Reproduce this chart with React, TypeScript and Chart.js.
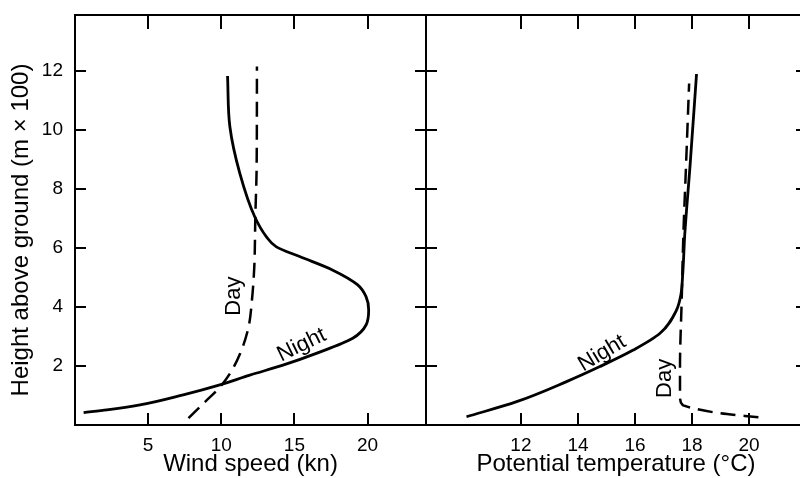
import React, { useEffect, useRef } from "react";
import { Chart, registerables } from "chart.js";

Chart.register(...registerables);

// Shared height axis (m × 100)
const heightTicks = [2, 4, 6, 8, 10, 12];
const heightMin = 0;
const heightMax = 13.9;

// Left panel: wind speed (kn)
const windTicks = [5, 10, 15, 20];
const windMin = 0;
const windMax = 24;
const windNightHeight = [0.42, 0.51, 0.68, 1.02, 1.36, 1.69, 2.03, 2.43, 2.94, 3.39, 3.9, 4.35, 4.75, 5.25, 5.71, 6.04, 6.38, 7.06, 8.53, 10.11, 11.83];
const windNightSpeed = [0.59, 2.18, 4.45, 7.4, 9.9, 11.95, 14.22, 16.5, 18.99, 19.9, 20.08, 19.9, 19.33, 17.63, 15.36, 13.77, 13.09, 12.29, 11.27, 10.59, 10.43];
const windDayHeight = [0.23, 0.74, 1.3, 1.75, 2.43, 3.33, 4.24, 5.37, 7.06, 8.76, 12.15];
const windDaySpeed = [7.76, 8.8, 9.93, 10.6, 11.3, 11.87, 12.1, 12.26, 12.33, 12.42, 12.44];

// Right panel: potential temperature (°C)
const tempTicks = [12, 14, 16, 18, 20];
const tempMin = 8.67;
const tempMax = 22;
const tempNightHeight = [0.28, 0.79, 1.47, 1.98, 2.54, 3.11, 3.9, 4.41, 5.03, 6.5, 8.76, 11.9];
const tempNightValue = [10.09, 11.85, 13.6, 14.77, 15.94, 16.88, 17.46, 17.61, 17.67, 17.75, 17.93, 18.16];
const tempDayHeight = [0.26, 0.4, 0.57, 0.68, 0.96, 1.98, 4.24, 6.5, 8.76, 11.58];
const tempDayValue = [20.33, 18.98, 18.05, 17.67, 17.58, 17.58, 17.64, 17.7, 17.79, 17.9];

// Curve labels (data coordinates)
const windLabelText = ["Night", "Day"];
const windLabelX = [15.5, 10.9];
const windLabelY = [2.71, 4.37];
const windLabelAngle = [-26, -90];
const tempLabelText = ["Night", "Day"];
const tempLabelX = [14.85, 17.05];
const tempLabelY = [2.43, 1.58];
const tempLabelAngle = [-31, -90];

const FONT = "'Liberation Sans', Arial, Helvetica, sans-serif";
const INK = "#000000";
const CANVAS_W = 830;
const CANVAS_H = 478;

const curveLabelPlugin = {
  id: "curveLabels",
  afterDatasetsDraw(chart: any, _args: any, opts: any) {
    const { ctx } = chart;
    const xs = chart.scales.x;
    const ys = chart.scales.y;
    const texts: string[] = opts.text || [];
    ctx.save();
    ctx.fillStyle = INK;
    ctx.font = `22px ${FONT}`;
    ctx.textAlign = "center";
    ctx.textBaseline = "middle";
    texts.forEach((t, i) => {
      ctx.save();
      ctx.translate(xs.getPixelForValue(opts.x[i]), ys.getPixelForValue(opts.y[i]));
      ctx.rotate((opts.angle[i] * Math.PI) / 180);
      ctx.fillText(t, 0, 0);
      ctx.restore();
    });
    ctx.restore();
  },
};

const setTicks = (values: number[]) => (scale: any) => {
  scale.ticks = values.map((v) => ({ value: v }));
};

function gridOpts(tickLength: number) {
  return {
    drawOnChartArea: false,
    drawTicks: true,
    tickLength,
    color: INK,
    tickColor: INK,
    lineWidth: 2,
    tickWidth: 2,
  };
}
const border = { display: true, color: INK, width: 2 };

function toPoints(xs: number[], ys: number[]) {
  return ys.map((y, i) => ({ x: xs[i], y }));
}

function fitHeight(h: number) {
  return (s: any) => {
    s.height = h;
    s.paddingLeft = 0;
    s.paddingRight = 0;
    s.paddingTop = 0;
    s.paddingBottom = 0;
  };
}
function fitWidth(w: number) {
  return (s: any) => {
    s.width = w;
    s.paddingLeft = 0;
    s.paddingRight = 0;
    s.paddingTop = 0;
    s.paddingBottom = 0;
  };
}

function makeConfig(p: {
  isLeft: boolean;
  xMin: number;
  xMax: number;
  xTicks: number[];
  xTitle: string;
  nightX: number[];
  nightY: number[];
  dayX: number[];
  dayY: number[];
  labels: any;
}) {
  const { isLeft } = p;
  return {
    type: "line" as const,
    data: {
      datasets: [
        {
          label: "Night",
          data: toPoints(p.nightX, p.nightY),
          borderColor: INK,
          borderWidth: 2.8,
          pointRadius: 0,
          fill: false,
          cubicInterpolationMode: "monotone" as const,
          xAxisID: "x",
          yAxisID: "y",
        },
        {
          label: "Day",
          data: toPoints(p.dayX, p.dayY),
          borderColor: INK,
          borderWidth: 2.5,
          borderDash: [15, 8],
          pointRadius: 0,
          fill: false,
          cubicInterpolationMode: "monotone" as const,
          xAxisID: "x",
          yAxisID: "y",
        },
      ],
    },
    options: {
      indexAxis: "y" as const,
      responsive: false,
      maintainAspectRatio: false,
      animation: false as const,
      devicePixelRatio: 1,
      events: [],
      layout: {
        autoPadding: false,
        padding: isLeft
          ? { left: 0, top: 15, right: CANVAS_W - 426, bottom: 0 }
          : { left: 426, top: 15, right: CANVAS_W - 806, bottom: 0 },
      },
      plugins: {
        legend: { display: false },
        tooltip: { enabled: false },
        curveLabels: p.labels,
      },
      scales: {
        x: {
          type: "linear" as const,
          axis: "x",
          position: "bottom" as const,
          min: p.xMin,
          max: p.xMax,
          afterBuildTicks: setTicks(p.xTicks),
          afterFit: fitHeight(CANVAS_H - 425),
          grid: gridOpts(-12),
          border,
          ticks: { color: INK, font: { family: FONT, size: 19 }, padding: 21, maxRotation: 0 },
          title: {
            display: true,
            text: p.xTitle,
            color: INK,
            font: { family: FONT, size: 24 },
            padding: { top: 0, bottom: -1 },
          },
        },
        xTop: {
          type: "linear" as const,
          axis: "x",
          position: "top" as const,
          min: p.xMin,
          max: p.xMax,
          afterBuildTicks: setTicks(p.xTicks),
          afterFit: fitHeight(0),
          grid: gridOpts(-14),
          border,
          ticks: { display: false },
        },
        y: {
          type: "linear" as const,
          axis: "y",
          position: "left" as const,
          min: heightMin,
          max: heightMax,
          afterBuildTicks: setTicks(heightTicks),
          afterFit: fitWidth(isLeft ? 75 : 0),
          grid: gridOpts(isLeft ? -11 : 11),
          border,
          ticks: isLeft
            ? { color: INK, font: { family: FONT, size: 19 }, padding: 23 }
            : { display: false },
          title: isLeft
            ? {
                display: true,
                text: "Height above ground (m × 100)\u00A0\u00A0\u00A0",
                color: INK,
                font: { family: FONT, size: 24 },
                padding: { top: 7, bottom: 0 },
              }
            : { display: false },
        },
        yRight: {
          type: "linear" as const,
          axis: "y",
          position: "right" as const,
          min: heightMin,
          max: heightMax,
          afterBuildTicks: setTicks(heightTicks),
          afterFit: fitWidth(0),
          grid: gridOpts(isLeft ? 11 : -10),
          border,
          ticks: { display: false },
        },
      },
    },
    plugins: [curveLabelPlugin],
  };
}

export default function App() {
  const leftRef = useRef<HTMLCanvasElement | null>(null);
  const rightRef = useRef<HTMLCanvasElement | null>(null);

  useEffect(() => {
    const left = new Chart(
      leftRef.current as HTMLCanvasElement,
      makeConfig({
        isLeft: true,
        xMin: windMin,
        xMax: windMax,
        xTicks: windTicks,
        xTitle: "Wind speed (kn)",
        nightX: windNightSpeed,
        nightY: windNightHeight,
        dayX: windDaySpeed,
        dayY: windDayHeight,
        labels: { text: windLabelText, x: windLabelX, y: windLabelY, angle: windLabelAngle },
      }) as any
    );
    const right = new Chart(
      rightRef.current as HTMLCanvasElement,
      makeConfig({
        isLeft: false,
        xMin: tempMin,
        xMax: tempMax,
        xTicks: tempTicks,
        xTitle: "Potential temperature (°C)",
        nightX: tempNightValue,
        nightY: tempNightHeight,
        dayX: tempDayValue,
        dayY: tempDayHeight,
        labels: { text: tempLabelText, x: tempLabelX, y: tempLabelY, angle: tempLabelAngle },
      }) as any
    );
    return () => {
      left.destroy();
      right.destroy();
    };
  }, []);

  const canvasStyle: React.CSSProperties = {
    position: "absolute",
    left: 0,
    top: 0,
    width: CANVAS_W,
    height: CANVAS_H,
  };

  return (
    <div
      style={{
        position: "fixed",
        left: 0,
        top: 0,
        width: 800,
        height: 478,
        overflow: "hidden",
        background: "#ffffff",
      }}
    >
      <canvas ref={leftRef} width={CANVAS_W} height={CANVAS_H} style={canvasStyle} />
      <canvas ref={rightRef} width={CANVAS_W} height={CANVAS_H} style={canvasStyle} />
    </div>
  );
}
